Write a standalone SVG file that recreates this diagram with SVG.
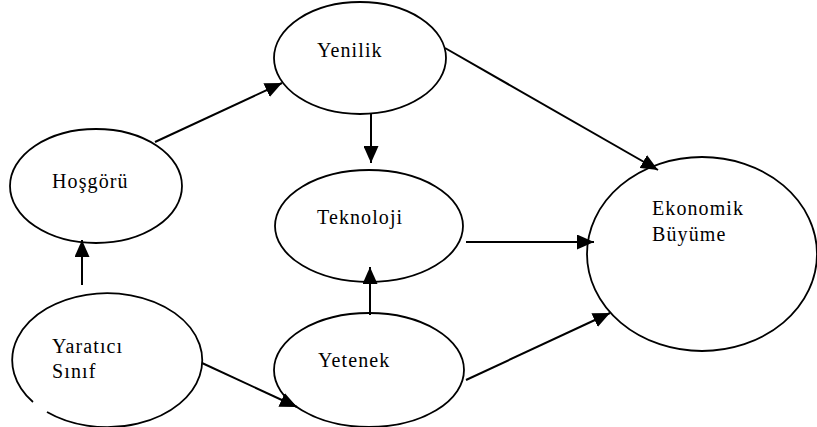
<svg xmlns="http://www.w3.org/2000/svg" width="817" height="427" viewBox="0 0 817 427">
<defs>
<style>
.node{fill:#fff;stroke:#000;stroke-width:1.8}
.edge{stroke:#000;stroke-width:2;fill:none;marker-end:url(#ah)}
</style>
<marker id="ah" markerUnits="userSpaceOnUse" markerWidth="17" markerHeight="15" refX="17" refY="7.5" orient="auto">
<path d="M0,0 L17,7.5 L0,15 z" fill="#000"/>
</marker>
</defs>
<rect width="817" height="427" fill="#fff"/>
<g font-family="'Liberation Serif', serif" font-size="20" letter-spacing="1.1" fill="#000">
<g id="yenilik"><ellipse class="node" cx="360" cy="58" rx="86" ry="56"/><text x="317" y="57">Yenilik</text></g>
<g id="hosgoru"><ellipse class="node" cx="96" cy="186" rx="86" ry="57"/><text x="52" y="188">Hoşgörü</text></g>
<g id="teknoloji"><ellipse class="node" cx="369" cy="226" rx="94" ry="56"/><text x="317" y="224">Teknoloji</text></g>
<g id="ekonomik"><ellipse class="node" cx="702" cy="254" rx="115" ry="97"/><text x="652" y="215">Ekonomik</text><text x="652" y="241">Büyüme</text></g>
<g id="yaratici"><path class="node" d="M47,412 A95,67 0 1 0 33,402"/><text x="52" y="353">Yaratıcı</text><text x="52" y="378">Sınıf</text></g>
<g id="yetenek"><ellipse class="node" cx="369" cy="370" rx="95" ry="57"/><text x="318" y="367">Yetenek</text></g>
</g>
<g id="connectors">
<line class="edge" x1="155" y1="142" x2="282" y2="83"/>
<line class="edge" x1="371" y1="114" x2="371" y2="163"/>
<line class="edge" x1="82" y1="285" x2="82" y2="240"/>
<line class="edge" x1="370" y1="315" x2="370" y2="267"/>
<line class="edge" x1="202" y1="363" x2="297" y2="407"/>
<line class="edge" x1="445" y1="48" x2="658" y2="170"/>
<line class="edge" x1="466" y1="242" x2="594" y2="242"/>
<line class="edge" x1="466" y1="380" x2="610" y2="313"/>
</g>
</svg>
